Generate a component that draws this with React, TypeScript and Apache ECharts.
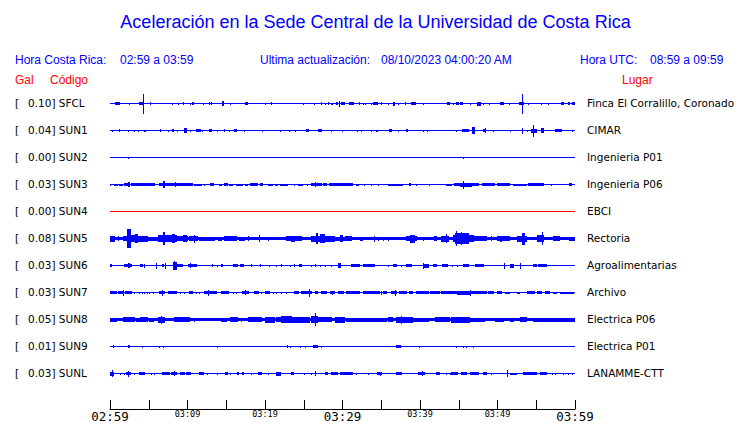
import React, { useEffect, useRef } from 'react';
import * as echarts from 'echarts';

// ---- Station metadata ----
const stationCodes = ['SFCL', 'SUN1', 'SUN2', 'SUN3', 'SUN4', 'SUN5', 'SUN6', 'SUN7', 'SUN8', 'SUN9', 'SUNL'];
const peakGal = ['0.10', '0.04', '0.00', '0.03', '0.00', '0.08', '0.03', '0.03', '0.05', '0.01', '0.03'];
const places = [
  'Finca El Corralillo, Coronado', 'CIMAR', 'Ingenieria P01', 'Ingenieria P06', 'EBCI', 'Rectoria',
  'Agroalimentarias', 'Archivo', 'Electrica P06', 'Electrica P01', 'LANAMME-CTT',
];
const traceColors = ['#0000ff', '#0000ff', '#0000ff', '#0000ff', '#ff0000', '#0000ff', '#0000ff', '#0000ff', '#0000ff', '#0000ff', '#0000ff'];

// ---- Time axis (minutes after 02:59) ----
const timeLabels = ['02:59', '03:09', '03:19', '03:29', '03:39', '03:49', '03:59'];
const majorLabelIdx = [0, 3, 6];

// ---- Header texts ----
const titleText = 'Aceleración en la Sede Central de la Universidad de Costa Rica';
const localLabel = 'Hora Costa Rica:';
const localRange = '02:59 a 03:59';
const updateLabel = 'Ultima actualización:';
const updateValue = '08/10/2023 04:00:20 AM';
const utcLabel = 'Hora UTC:';
const utcRange = '08:59 a 09:59';

// ---- Trace envelopes: [startMinute, endMinute, halfAmplitude] ----
const sfcl = [[0.75,1.30,1.5],[2.47,2.47,1],[3.85,4.20,1.5],[4.28,4.28,10],[5.23,5.23,1.5],[8.07,8.07,1],[8.89,8.89,1],[9.50,9.50,1.5],[10.40,10.40,1],[10.66,10.87,1.5],[12.03,12.03,1],[12.86,12.86,1.5],[13.15,13.15,1.5],[14.48,14.74,2.5],[15.61,15.61,1],[17.42,17.84,1.5],[20.00,20.00,1],[20.87,20.87,1.5],[24.95,24.95,1],[26.37,26.37,1],[27.33,27.33,1.5],[27.75,27.75,1],[28.18,28.18,1.5],[28.62,28.79,1],[29.26,29.47,1.5],[29.60,29.60,3],[29.82,30.34,1.5],[30.89,31.54,1.5],[32.18,32.18,1.5],[32.70,32.70,1],[33.01,33.01,1],[33.69,33.69,1],[33.99,34.64,1.5],[35.08,35.08,1.5],[35.93,35.93,1],[36.58,36.80,2],[37.22,37.22,1],[38.09,38.09,1.5],[38.86,39.47,1.5],[40.45,40.45,1],[43.60,43.90,1.5],[44.33,44.33,1],[44.68,44.97,1.5],[45.19,45.54,1.5],[46.49,46.49,1],[47.43,47.87,2],[48.13,48.13,1],[48.94,48.94,1],[50.36,50.88,1.5],[51.52,51.52,1],[52.86,53.37,1.5],[53.24,53.24,10],[54.02,54.02,1],[55.66,55.66,1],[56.60,56.60,1],[58.24,58.63,1.5],[59.11,59.41,1.5],[59.63,60,1.5]];

const sun1 = [[0.27,0.27,1],[1.27,1.27,1.5],[2.34,2.34,1],[3.20,3.20,1],[3.63,3.63,1],[4.41,4.41,1],[4.59,4.59,1],[6.56,6.56,1.5],[7.51,7.51,1],[8.08,8.28,1.5],[8.72,8.72,1],[9.66,9.88,2.5],[10.44,10.44,1],[11.18,11.69,1.5],[11.95,11.95,1],[12.80,13.11,1.5],[13.89,13.89,1],[14.74,14.74,1.5],[15.39,15.39,1],[16.03,16.38,1.5],[17.33,17.33,1],[19.65,19.65,1],[21.94,21.94,1],[23.14,23.14,1],[23.88,23.88,1],[25.39,25.65,1.5],[26.89,27.33,1.5],[28.62,28.62,1],[29.99,29.99,1],[31.93,31.93,1],[32.40,32.40,1],[33.69,33.69,1],[34.34,34.64,1],[36.06,36.37,1.5],[37.22,37.22,1],[38.31,38.51,1.5],[40.45,40.45,1],[40.97,40.97,1],[44.77,44.77,1],[45.54,46.27,1.5],[46.74,47.04,3.5],[48.13,48.55,1.5],[48.42,48.42,2.5],[49.42,49.42,1],[51.69,51.69,1],[53.24,53.24,3],[53.81,53.81,1],[54.33,55.10,2],[54.66,54.66,6],[55.66,56.04,2.5],[57.47,58.33,1.5],[59.63,59.63,1]];

const sun2 = [[2.34,2.34,1],[45.62,45.62,1]];

const sun3 = [[0.10,0.10,1],[0.62,1.05,1],[1.27,1.69,1],[1.91,2.34,1.5],[2.34,2.60,2.5],[2.78,5.79,1.5],[6.34,6.86,1.5],[6.86,7.08,3.5],[7.08,8.37,1.5],[8.50,8.50,2.5],[8.59,10.74,1.5],[10.96,11.82,1],[12.25,12.25,1],[13.02,13.37,1.5],[14.10,14.41,1],[14.74,15.18,1.5],[15.48,15.90,1],[16.34,17.20,1],[17.42,17.84,1],[18.19,19.13,1.5],[19.39,19.78,1.5],[20.43,21.07,1],[21.38,21.72,1],[21.94,23.01,1],[23.79,23.79,1],[24.30,24.95,1],[25.43,25.43,1],[26.03,27.40,1.5],[26.55,26.55,2.5],[27.53,27.97,1.5],[28.27,30.34,1.5],[30.34,31.41,1.5],[31.85,32.18,1],[32.79,32.79,1],[33.79,33.79,1],[34.64,34.64,1],[35.93,37.87,1],[38.64,38.86,1.5],[39.60,39.60,1],[41.23,41.23,1],[43.48,44.12,1],[44.42,45.28,1.5],[45.28,46.71,2],[45.62,45.62,4],[46.71,47.56,1.5],[48.00,49.72,1.5],[49.94,51.65,1.5],[52.08,53.81,1],[54.02,55.96,1.5],[56.91,56.91,1],[59.24,59.62,1.5]];

const sun4 = [];

const sun5 = [[0,60,1.5],[0,0.62,3],[1.05,1.05,2.5],[1.69,2.13,2.5],[2.26,2.69,9.5],[2.69,3.42,3.5],[3.33,3.63,4.5],[3.63,4.92,3],[4.92,6.21,2],[6.21,6.86,3.5],[6.86,7.08,6.5],[7.08,8.59,3.5],[8.08,8.37,4.5],[8.59,10.09,2.5],[9.44,9.88,3.5],[10.31,11.38,2.5],[10.96,10.96,4],[11.60,13.53,2],[13.97,14.41,2],[14.83,16.34,2.5],[16.77,17.42,2],[17.84,17.84,2.5],[19.26,19.26,3.5],[20.43,20.43,2],[22.80,24.74,2.5],[23.45,23.88,3],[26.03,29.04,3],[26.59,26.89,5.5],[27.11,27.75,4.5],[29.04,30.34,2],[29.69,30.12,3.5],[30.34,31.20,2.5],[32.27,32.70,2],[34.12,34.12,3],[34.64,34.64,2],[35.28,35.28,2],[35.93,35.93,2],[38.31,39.60,2.5],[38.73,39.38,4],[40.45,40.45,2],[41.87,42.18,2.5],[42.83,43.68,3],[43.39,43.39,4.5],[44.33,46.91,3.5],[44.55,46.27,5.5],[44.77,44.77,7.5],[45.41,45.41,6.5],[46.91,48.64,2.5],[49.29,49.29,2.5],[49.94,51.65,2.5],[50.36,50.58,3],[52.52,53.81,3],[53.17,53.59,6],[55.10,56.04,3.5],[55.75,55.75,6.5],[57.25,58.11,2.5],[59.24,60,2]];

const sun6 = [[0,0.27,1.5],[1.91,2.78,1.5],[2.43,2.60,2.5],[3.98,4.28,1.5],[4.50,4.50,2],[6.01,6.01,3],[6.73,6.99,1.5],[7.17,7.17,3],[8.15,8.59,4],[8.37,8.37,4.5],[8.59,9.44,1.5],[10.18,11.18,1.5],[10.40,10.40,2.5],[13.19,13.19,1.5],[13.84,13.84,1],[14.41,14.61,1.5],[15.90,16.47,1.5],[16.90,17.33,1.5],[18.28,18.28,1.5],[19.44,19.44,1.5],[20.56,20.56,1],[21.51,21.51,1],[22.16,22.16,1.5],[23.23,23.23,1],[23.79,23.79,1.5],[24.43,24.74,1.5],[25.94,25.94,1],[26.46,26.46,1.5],[27.20,27.20,1],[27.75,27.75,1],[28.53,28.53,1],[29.47,29.82,2.5],[31.20,32.27,1.5],[32.70,33.56,1.5],[33.56,34.21,1.5],[35.93,35.93,1],[36.58,37.02,1.5],[37.66,37.66,1],[38.31,38.95,1.5],[40.45,41.10,2],[40.45,40.45,3],[41.74,42.18,1.5],[42.96,43.55,1.5],[44.25,44.25,1],[44.85,44.85,1],[45.62,46.27,1.5],[47.13,48.30,1.5],[50.88,50.88,3],[51.65,52.08,2],[52.95,52.95,3],[54.67,55.10,1.5],[55.31,56.40,1.5]];

const sun7 = [[0,0.84,1.5],[1.05,1.82,1.5],[1.69,1.69,3],[2.00,2.78,1.5],[3.20,3.20,1],[3.85,3.85,1],[4.15,4.15,1],[4.50,4.50,1],[4.84,4.84,1],[5.14,5.14,1],[5.57,5.57,1],[6.43,7.08,1.5],[6.78,6.78,3],[7.51,8.59,1.5],[9.15,9.15,1],[9.66,9.66,1],[10.31,10.74,1.5],[11.18,11.18,1],[11.51,11.51,1],[12.25,13.76,1.5],[12.67,12.67,3],[14.41,15.35,1.5],[15.90,15.90,1],[16.34,16.34,1],[17.07,17.93,1.5],[17.42,17.42,2.5],[18.62,19.23,1.5],[19.57,19.57,1],[20.00,20.65,1.5],[21.07,21.07,1],[21.51,21.51,1],[22.16,22.16,1],[22.80,22.80,1],[23.79,24.39,1.5],[24.74,26.03,1.5],[25.68,25.68,4],[26.46,26.89,1.5],[27.33,27.97,1.5],[28.40,29.04,1.5],[28.69,28.69,2],[29.47,30.25,1.5],[30.46,32.27,1.5],[32.70,33.56,1.5],[33.56,34.86,1.5],[35.08,35.08,2],[35.28,35.72,1.5],[36.37,37.02,1.5],[36.80,36.80,3],[37.35,38.31,1.5],[38.64,39.16,1.5],[39.60,41.10,1.5],[41.32,42.61,1.5],[42.83,44.77,1.5],[44.85,46.49,2],[46.49,46.49,3],[46.49,48.64,1.5],[48.85,49.50,1.5],[49.94,50.58,1.5],[51.01,51.65,1],[52.52,52.95,1],[53.81,54.88,1.5],[55.10,55.75,1.5],[56.18,56.83,1.5],[57.25,57.69,1],[58.11,59.92,1]];

const sun8 = [[0,60,1.5],[0,0.84,2],[1.69,3.20,2.5],[3.42,3.85,2],[3.98,4.92,2.5],[5.14,5.70,2],[6.21,7.08,3],[6.65,6.65,4],[8.37,10.31,2.5],[10.96,10.96,2],[14.41,15.05,2],[15.61,16.55,2.5],[16.99,16.99,2],[17.84,19.57,2.5],[20.00,21.29,3],[21.51,22.59,2.5],[22.16,23.45,3.5],[23.45,25.81,3],[26.03,26.89,3.5],[26.46,26.46,6.5],[26.89,28.62,2.5],[29.04,30.34,3],[30.56,33.56,2],[33.56,35.72,2],[35.93,36.58,2.5],[37.02,39.16,3],[37.66,37.66,4],[39.16,41.10,2],[41.97,43.91,2.5],[44.12,46.49,3],[46.49,48.42,2],[49.72,50.79,2],[51.65,52.08,2],[52.95,53.81,2.5],[54.66,56.17,2],[56.17,60,2]];

const sun9 = [[0.40,0.40,1.5],[2.34,2.56,1.5],[4.17,4.17,1],[6.34,6.34,1],[6.89,6.89,1],[13.84,13.84,1],[22.91,22.91,1.5],[23.27,23.27,1],[24.52,24.52,1],[25.17,25.17,1],[26.24,26.78,1.5],[27.30,27.30,1],[36.92,37.53,1.5],[39.94,39.94,1],[44.68,44.68,1],[45.62,45.62,1],[46.06,46.06,1],[46.91,46.91,1]];

const sunl = [[0,0.53,2],[0.27,0.27,3.5],[1.40,1.40,1],[1.82,1.82,1],[2.13,2.69,1.5],[2.43,2.43,3],[3.20,3.20,1],[3.85,4.50,1.5],[5.36,5.36,1],[5.79,5.79,1],[6.73,7.72,1.5],[7.95,8.59,1.5],[8.37,8.37,2.5],[9.15,9.66,1.5],[9.88,10.44,1.5],[11.60,12.12,1.5],[12.55,12.55,1],[13.84,13.84,1],[14.96,15.26,1.5],[15.61,15.61,1],[16.47,16.68,1.5],[17.12,17.33,1.5],[18.28,18.28,1],[19.22,19.57,1.5],[20.43,20.43,1],[21.51,22.07,2],[23.45,23.79,1.5],[25.08,25.08,1],[25.94,25.94,1],[26.55,26.55,2.5],[27.75,28.10,1.5],[28.53,29.47,1.5],[29.69,31.41,1.5],[31.85,31.85,1],[33.35,33.35,1],[34.51,35.16,1.5],[34.86,34.86,2],[37.02,37.66,1.5],[39.81,40.67,1.5],[40.38,40.38,2.5],[42.18,42.61,1.5],[43.39,43.39,1],[43.90,43.90,1],[44.12,44.85,1.5],[45.41,46.06,1.5],[46.49,47.56,1.5],[48.20,48.64,1.5],[49.29,49.29,1],[51.23,51.23,3.5],[51.65,52.52,1],[53.37,55.10,1.5],[55.53,56.40,1.5],[57.04,57.04,1],[57.47,57.47,1],[58.54,58.54,1],[59.11,59.11,1],[59.63,59.63,1]];

const traces = [sfcl, sun1, sun2, sun3, sun4, sun5, sun6, sun7, sun8, sun9, sunl];

const FIRST_BASE = 13.5;
const TRACE_GAP = 27;

export default function App() {
  const ref = useRef<HTMLDivElement>(null);

  useEffect(() => {
    if (!ref.current) return;
    const chart = echarts.init(ref.current, null, { renderer: 'svg' });

    const data: number[][] = [];
    traces.forEach((bursts, i) => {
      const base = FIRST_BASE + TRACE_GAP * i;
      data.push([0, 60, 0.5, base, i]);
      bursts.forEach((b) => data.push([b[0], b[1], b[2], base, i]));
    });

    const headerFont = '"Liberation Sans", Arial, sans-serif';
    const stationFont = '"DejaVu Sans", sans-serif';
    const blue = '#0000ff';
    const red = '#ff0000';

    const graphics: any[] = [
      { type: 'text', x: 375.5, y: 22, style: { text: titleText, font: `18px ${headerFont}`, fill: blue, align: 'center', verticalAlign: 'middle' } },
      { type: 'text', x: 15, y: 60, style: { text: localLabel, font: `12px ${headerFont}`, fill: blue, verticalAlign: 'middle' } },
      { type: 'text', x: 120, y: 60, style: { text: localRange, font: `12px ${headerFont}`, fill: blue, verticalAlign: 'middle' } },
      { type: 'text', x: 260, y: 60, style: { text: updateLabel, font: `12px ${headerFont}`, fill: blue, verticalAlign: 'middle' } },
      { type: 'text', x: 381, y: 60, style: { text: updateValue, font: `12px ${headerFont}`, fill: blue, verticalAlign: 'middle' } },
      { type: 'text', x: 580, y: 60, style: { text: utcLabel, font: `12px ${headerFont}`, fill: blue, verticalAlign: 'middle' } },
      { type: 'text', x: 650, y: 60, style: { text: utcRange, font: `12px ${headerFont}`, fill: blue, verticalAlign: 'middle' } },
      { type: 'text', x: 15, y: 80, style: { text: 'Gal', font: `12px ${headerFont}`, fill: red, verticalAlign: 'middle' } },
      { type: 'text', x: 50, y: 80, style: { text: 'Código', font: `12px ${headerFont}`, fill: red, verticalAlign: 'middle' } },
      { type: 'text', x: 622, y: 80, style: { text: 'Lugar', font: `12px ${headerFont}`, fill: red, verticalAlign: 'middle' } },
    ];
    stationCodes.forEach((code, i) => {
      const y = 90 + FIRST_BASE + TRACE_GAP * i - 0.5;
      graphics.push({ type: 'text', x: 15, y, style: { text: '[', font: `10.5px ${stationFont}`, fill: '#000', verticalAlign: 'middle' } });
      graphics.push({ type: 'text', x: 28, y, style: { text: `${peakGal[i]}] ${code}`, font: `10.5px ${stationFont}`, fill: '#000', verticalAlign: 'middle' } });
      graphics.push({ type: 'text', x: 587, y, style: { text: places[i], font: `10.5px ${stationFont}`, fill: '#000', verticalAlign: 'middle' } });
    });

    chart.setOption({
      animation: false,
      backgroundColor: '#ffffff',
      grid: { left: 110, top: 90, width: 465, height: 319, containLabel: false },
      xAxis: {
        type: 'value', min: 0, max: 60, interval: 5, position: 'bottom',
        axisLine: { show: true, onZero: false, lineStyle: { color: '#000', width: 1 } },
        axisTick: { show: true, inside: true, length: 9, lineStyle: { color: '#000', width: 1 } },
        splitLine: { show: false },
        axisLabel: {
          show: true, margin: 0, showMinLabel: true, showMaxLabel: true,
          formatter: (v: number) => {
            if (v % 10 !== 0) return '';
            const idx = v / 10;
            const lbl = timeLabels[idx];
            return majorLabelIdx.includes(idx) ? `{big|${lbl}}` : `{small|${lbl}}`;
          },
          rich: {
            big: { fontSize: 12.5, fontFamily: '"DejaVu Sans Mono", monospace', lineHeight: 15, color: '#000' },
            small: { fontSize: 8.5, fontFamily: '"DejaVu Sans Mono", monospace', lineHeight: 10, color: '#000' },
          },
        },
      },
      yAxis: { type: 'value', min: 0, max: 319, inverse: true, show: false },
      series: [
        {
          type: 'custom',
          data,
          encode: { x: [0, 1], y: 3 },
          clip: false,
          renderItem: (params: any, api: any) => {
            const t0 = api.value(0);
            const t1 = api.value(1);
            const a = api.value(2);
            const base = api.value(3);
            const idx = api.value(4);
            const pA = api.coord([t0, base]);
            const pB = api.coord([t1, base]);
            const full = Math.max(1, Math.round(2 * api.size([0, a])[1]));
            const x0 = Math.floor(pA[0]);
            const x1 = Math.max(x0 + 1, Math.round(pB[0]));
            const y0 = Math.floor(pA[1] - full / 2 + 0.5);
            return {
              type: 'rect',
              shape: { x: x0, y: y0, width: x1 - x0, height: full },
              style: { fill: traceColors[idx] },
            };
          },
        },
      ],
      graphic: graphics,
    });

    return () => chart.dispose();
  }, []);

  return <div ref={ref} style={{ position: 'fixed', left: 0, top: 0, width: 740, height: 423, background: '#fff' }} />;
}
